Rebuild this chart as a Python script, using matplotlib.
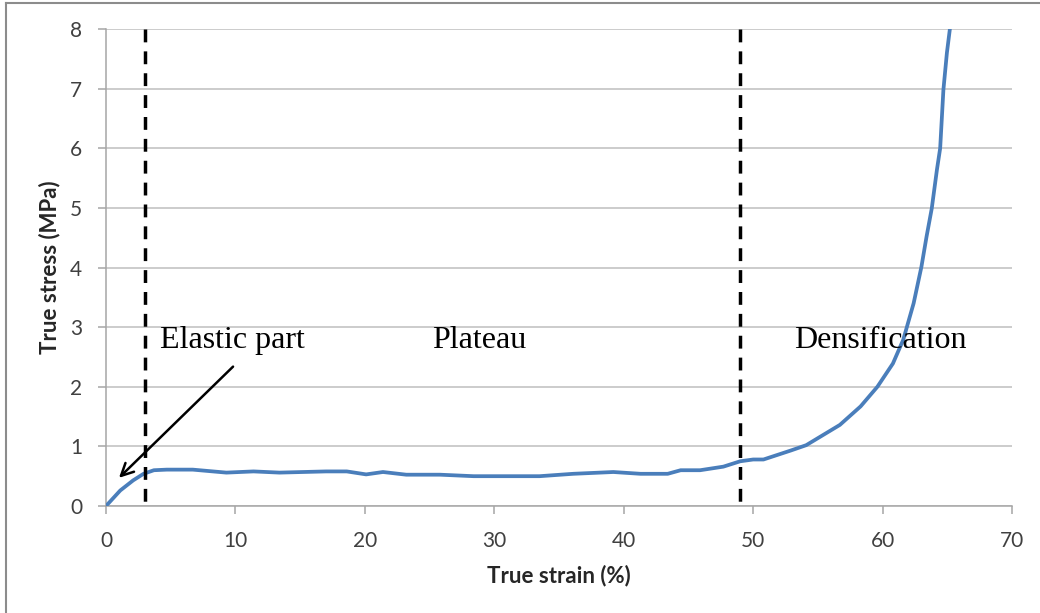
import matplotlib.pyplot as plt
from matplotlib.lines import Line2D

# stress-strain curve
strain = [0, 1.1, 2.1, 2.9, 3.7, 4.7, 6.7, 9.3, 11.4, 13.4, 17.0, 18.6, 20.1,
          21.4, 23.2, 25.8, 28.4, 30.2, 32.2, 33.5, 36.1, 39.2, 41.3, 43.4,
          44.4, 45.9, 47.7, 49.0, 50.0, 50.8, 52.9, 54.1, 56.7, 58.3, 59.6,
          60.8, 61.6, 62.4, 63.0, 63.4, 63.8, 64.2, 64.45, 64.7, 64.97, 65.2]
stress = [0, 0.26, 0.43, 0.54, 0.60, 0.61, 0.61, 0.56, 0.58, 0.56, 0.58, 0.58,
          0.53, 0.57, 0.525, 0.525, 0.50, 0.50, 0.50, 0.50, 0.54, 0.57, 0.54,
          0.54, 0.60, 0.60, 0.66, 0.75, 0.78, 0.78, 0.93, 1.02, 1.36, 1.67, 2.0,
          2.39, 2.79, 3.40, 4.01, 4.52, 4.99, 5.64, 6.0, 6.98, 7.6, 8.0]

region_bounds = [3, 49]
region_names = ["Elastic part", "Plateau", "Densification"]
region_label_x = [4.2, 25.2, 53.2]
region_label_y = 2.77

x_ticks = [0, 10, 20, 30, 40, 50, 60, 70]
y_ticks = [0, 1, 2, 3, 4, 5, 6, 7, 8]

fig = plt.figure(figsize=(10.4, 6.13), dpi=100)
ax = fig.add_axes([106/1040, 1 - 506/613, (1012 - 106)/1040, (506 - 29)/613])

ax.plot(strain, stress, color='#4a7ebb', lw=2.7, solid_capstyle='round',
        solid_joinstyle='round', zorder=3)

# region boundaries
for b in region_bounds:
    ax.plot([b, b], [8, 0], color='black', lw=2.5, linestyle=(0, (3.7, 2.6)), zorder=4)

for name, xt in zip(region_names, region_label_x):
    ax.text(xt, region_label_y, name, fontsize=23, family='Liberation Serif',
            va='center', ha='left', zorder=5)

ax.annotate('', xy=(0.85, 0.44), xytext=(9.97, 2.37),
            arrowprops=dict(arrowstyle='->', color='black', lw=1.8,
                            mutation_scale=22), zorder=5)

ax.set_xlim(0, 70)
ax.set_ylim(0, 8)
ax.set_xticks(x_ticks)
ax.set_yticks(y_ticks)
ax.grid(axis='y', color='#bfbfbf', lw=1.1)
ax.set_axisbelow(True)

for s in ['top', 'right']:
    ax.spines[s].set_visible(False)
for s in ['left', 'bottom']:
    ax.spines[s].set_color('#a6a6a6')
    ax.spines[s].set_linewidth(1.1)

ax.tick_params(axis='both', direction='out', length=6, width=1.1, color='#a6a6a6',
               labelsize=15, labelcolor='#404040')
ax.tick_params(axis='x', pad=12)
ax.tick_params(axis='y', pad=11)
for lab in ax.get_xticklabels() + ax.get_yticklabels():
    lab.set_family('Lato')

ax.set_xlabel('True strain (%)', fontsize=16, fontweight='bold', family='Lato',
              color='#262626', labelpad=10)
ax.set_ylabel('True stress (MPa)', fontsize=16, fontweight='bold', family='Lato',
              color='#262626', labelpad=7)

# chart border (left and top edges visible in the reference)
fig.add_artist(Line2D([6/1040, 6/1040], [0, 1 - 3/613], color='#8c8c8c', lw=1.5))
fig.add_artist(Line2D([6/1040, 1], [1 - 3/613, 1 - 3/613], color='#8c8c8c', lw=1.5))

fig.savefig('out.png', dpi=100)
